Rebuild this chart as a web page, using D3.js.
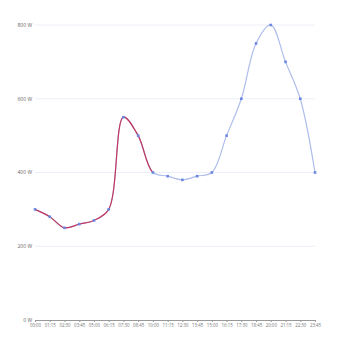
<!DOCTYPE html>
<html>
<head>
<meta charset="utf-8">
<script src="https://cdn.jsdelivr.net/npm/d3@7"></script>
<style>
  body { margin: 0; background: #fff; }
  text { font-family: "Open Sans", sans-serif; fill: #666; }
</style>
</head>
<body>
<div id="chart"></div>
<script>
var times = ['00:00','01:15','02:30','03:45','05:00','06:15','07:30','08:45','10:00','11:15',
             '12:30','13:45','15:00','16:15','17:30','18:45','20:00','21:15','22:30','23:45'];
var watts = [300, 280, 250, 260, 270, 300, 550, 500, 400, 390,
             380, 390, 400, 500, 600, 750, 800, 700, 600, 400];
var yTicks = [0, 200, 400, 600, 800];
var splitAt = 8; // index where the red part stops

var width = 350, height = 350;
var margin = {top: 25, right: 35, bottom: 30, left: 35};

var svg = d3.select('#chart').append('svg').attr('width', width).attr('height', height);

var x = d3.scalePoint().domain(times).range([margin.left, width - margin.right]);
var y = d3.scaleLinear().domain([0, 800]).range([height - margin.bottom, margin.top]);

// grid
svg.append('g').selectAll('line').data(yTicks.slice(1)).enter().append('line')
  .attr('x1', margin.left).attr('x2', width - margin.right)
  .attr('y1', function(d){ return y(d); }).attr('y2', function(d){ return y(d); })
  .style('stroke', '#eeeef8').style('stroke-width', 1);

// y labels
svg.append('g').selectAll('text').data(yTicks).enter().append('text')
  .attr('x', margin.left - 3).attr('y', function(d){ return y(d); })
  .attr('dy', '0.35em').style('text-anchor', 'end').style('font-size', '5px')
  .text(function(d){ return d + ' W'; });

// x axis
var xAxis = svg.append('g').attr('transform', 'translate(0,' + y(0) + ')')
  .call(d3.axisBottom(x).tickSize(2).tickPadding(2));
xAxis.select('.domain').style('stroke', '#999');
xAxis.selectAll('.tick line').style('stroke', '#999');
xAxis.selectAll('text').style('font-size', '4.4px').style('fill', '#777').style('font-family', '"Open Sans", sans-serif');

var pts = times.map(function(t, i){ return [x(t), y(watts[i])]; });
var line = d3.line().curve(d3.curveCatmullRom.alpha(0.5));

// full line in light blue, red overlay on first part
svg.append('path').attr('d', line(pts)).style('fill', 'none')
  .style('stroke', '#aebdeb').style('stroke-width', 1.2);

// red part: draw the same curve clipped to x <= split point
svg.append('clipPath').attr('id', 'clipRed').append('rect')
  .attr('x', 0).attr('y', 0).attr('width', x(times[splitAt])).attr('height', height);
svg.append('path').attr('d', line(pts)).attr('clip-path', 'url(#clipRed)')
  .style('fill', 'none').style('stroke', '#c2375f').style('stroke-width', 1.2);

// markers
svg.append('g').selectAll('rect').data(pts).enter().append('rect')
  .attr('x', function(d){ return d[0] - 1.3; }).attr('y', function(d){ return d[1] - 1.3; })
  .attr('width', 2.6).attr('height', 2.6)
  .style('fill', '#6b86e0');
</script>
</body>
</html>
